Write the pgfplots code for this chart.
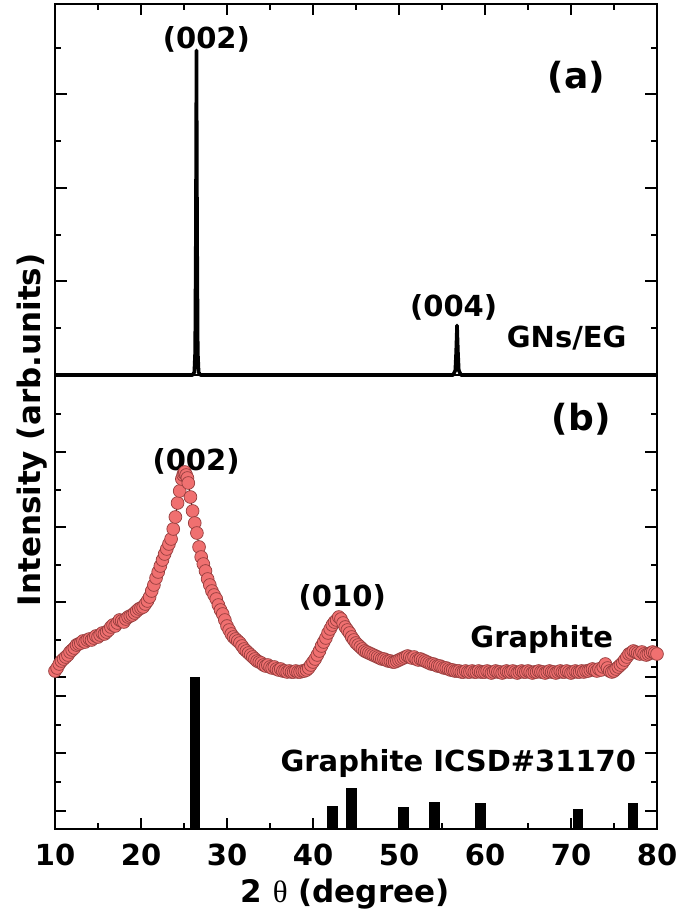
\documentclass[border=0pt]{standalone}
\usepackage{fontspec}
\setmainfont{DejaVu Sans}
\newfontfamily\thfont{Liberation Serif}
\usepackage{pgfplots}
\usepackage{pgfplotstable}
\pgfplotsset{compat=1.18}
\definecolor{salmon}{RGB}{240,112,112}
\definecolor{edgered}{RGB}{150,62,62}

\pgfplotstableread{
x y
10.00 158
10.25 161
10.50 165
10.75 168
11.00 170
11.25 172
11.50 174
11.75 177
12.00 179
12.25 181
12.50 184
12.75 185
13.00 186
13.25 188
13.50 187
13.75 189
14.00 190
14.25 189
14.50 191
14.75 193
15.00 192
15.25 194
15.50 196
15.75 195
16.00 197
16.25 199
16.50 202
16.75 204
17.00 203
17.25 206
17.50 209
17.75 208
18.00 207
18.25 210
18.50 212
18.75 213
19.00 214
19.25 216
19.50 218
19.75 220
20.00 221
20.25 222
20.50 225
20.75 228
21.00 232
21.25 238
21.50 244
21.75 251
22.00 257
22.25 263
22.50 269
22.75 275
23.00 280
23.25 285
23.50 290
23.75 300
24.00 312
24.25 326
24.50 338
24.75 350
24.90 354
25.00 356
25.10 357
25.25 354
25.40 351
25.50 346
25.75 332
26.00 318
26.25 306
26.50 296
26.75 282
27.00 272
27.25 265
27.50 258
27.75 250
28.00 244
28.25 238
28.50 234
28.75 230
29.00 224
29.25 219
29.50 215
29.75 209
30.00 203
30.25 199
30.50 195
30.75 192
31.00 190
31.25 188
31.50 186
31.75 183
32.00 180
32.25 178
32.50 176
32.75 174
33.00 172
33.25 170
33.50 168
33.75 167
34.00 166
34.25 164
34.50 163
34.75 164
35.00 162
35.25 161
35.50 162
35.75 160
36.00 159
36.25 160
36.50 158
36.75 158
37.00 157
37.25 158
37.50 157
37.75 157
38.00 158
38.25 157
38.50 157
38.75 158
39.00 158
39.25 159
39.50 161
39.75 164
40.00 167
40.25 170
40.50 174
40.75 178
41.00 183
41.25 187
41.50 191
41.75 196
42.00 200
42.25 204
42.50 207
42.75 209
43.00 212
43.25 210
43.50 206
43.75 202
44.00 199
44.25 196
44.50 192
44.75 189
45.00 186
45.25 184
45.50 182
45.75 180
46.00 178
46.25 177
46.50 176
46.75 175
47.00 174
47.25 173
47.50 172
47.75 171
48.00 170
48.25 170
48.50 169
48.75 168
49.00 168
49.25 167
49.50 167
49.75 168
50.00 169
50.25 170
50.50 171
50.75 172
51.00 173
51.25 172
51.50 171
51.75 172
52.00 170
52.25 169
52.50 170
52.75 169
53.00 168
53.25 167
53.50 166
53.75 165
54.00 165
54.25 164
54.50 163
54.75 163
55.00 162
55.25 161
55.50 161
55.75 160
56.00 159
56.25 159
56.50 158
56.75 158
57.00 158
57.25 157
57.50 157
57.75 158
58.00 157
58.25 157
58.50 158
58.75 157
59.00 157
59.25 158
59.50 157
59.75 157
60.00 157
60.25 158
60.50 157
60.75 156
61.00 157
61.25 158
61.50 157
61.75 157
62.00 156
62.25 157
62.50 158
62.75 157
63.00 157
63.25 158
63.50 157
63.75 156
64.00 157
64.25 158
64.50 157
64.75 157
65.00 158
65.25 157
65.50 156
65.75 157
66.00 157
66.25 158
66.50 157
66.75 157
67.00 156
67.25 157
67.50 158
67.75 157
68.00 157
68.25 156
68.50 157
68.75 158
69.00 157
69.25 157
69.50 158
69.75 157
70.00 156
70.25 157
70.50 158
70.75 157
71.00 157
71.25 158
71.50 157
71.75 158
72.00 158
72.25 159
72.50 160
72.75 159
73.00 158
73.25 160
73.50 159
73.75 162
74.00 165
74.25 161
74.50 158
74.75 157
75.00 158
75.25 160
75.50 162
75.75 164
76.00 166
76.25 169
76.50 172
76.75 175
77.00 176
77.25 178
77.50 177
77.75 176
78.00 175
78.25 177
78.50 175
78.75 174
79.00 175
79.25 176
79.50 177
79.75 176
80.00 175
}\graphite

\begin{document}
\begin{tikzpicture}
\useasboundingbox (-27.5pt,-43.5pt) rectangle (315pt,414.5pt);
\pgfplotsset{
  every axis/.append style={
    scale only axis, width=301pt, xmin=10, xmax=80,
    tick align=inside, major tick length=5.75pt, minor tick length=3pt,
    axis line style={line width=1.3pt},
    every tick/.style={black, line width=1pt},
    /pgf/number format/assume math mode=true,
    tick label style={font=\fontsize{14.5}{16}\selectfont\bfseries},
    yticklabels={},
  },
}
% panel (b)
\begin{axis}[
  at={(0pt,0pt)}, anchor=south west, height=227pt,
  ymin=0, ymax=454,
  xtick={10,20,...,80}, minor xtick={15,25,...,75}, xtick pos=left,
  ytick={18,76,133,152,227,302,377}, minor ytick={47,104,162,189,264,339,415},
  ytick pos=both,
  xticklabel style={anchor=base, yshift=-18pt},
  xlabel={2 {\thfont\mdseries θ} (degree)},
  xlabel style={at={(axis description cs:0.4817,-0.1608)}, anchor=base, font=\fontsize{15.5}{17}\selectfont\bfseries},
  ylabel={Intensity (arb.units)},
  ylabel style={at={(axis description cs:-0.0249,0.879)}, anchor=base, font=\fontsize{15.5}{17}\selectfont\bfseries},
]
\addplot[ycomb, black, line width=5.25pt] coordinates {
  (26.3,152) (42.25,23) (44.45,41) (50.5,22) (54.1,27) (59.5,26) (70.8,20) (77.2,26)
};
\addplot[black, line width=0.5pt, mark=*, mark size=3.2pt,
  mark options={fill=salmon, draw=edgered, line width=0.35pt}] table[x=x,y=y]{\graphite};
\node[font=\fontsize{18}{20}\selectfont\bfseries] at (axis cs:71.2,410) {(b)};
\node[font=\fontsize{14.5}{16}\selectfont\bfseries] at (axis cs:26.4,368) {(002)};
\node[font=\fontsize{14.5}{16}\selectfont\bfseries] at (axis cs:43.4,232) {(010)};
\node[font=\fontsize{14.5}{16}\selectfont\bfseries, anchor=base] at (axis cs:66.6,181) {Graphite};
\node[font=\fontsize{14.5}{16}\selectfont\bfseries, anchor=base] at (axis cs:56.9,58) {Graphite ICSD\#31170};
\end{axis}
% panel (a)
\begin{axis}[
  at={(0pt,227pt)}, anchor=south west, height=185.5pt,
  ymin=0, ymax=3.966, clip=false,
  xtick={10,20,...,80}, minor xtick={15,25,...,75}, xtick pos=right, xticklabels={},
  ytick={0,1,2,3}, minor ytick={0.5,1.5,2.5,3.5}, ytick pos=both,
]
\addplot[black, line width=1.8pt, line join=round] coordinates {
  (10,0) (26.0,0) (26.2,0.03) (26.3,0.25) (26.38,1.5) (26.45,3.47) (26.52,1.5) (26.6,0.25) (26.7,0.03) (26.9,0)
  (56.3,0) (56.55,0.05) (56.65,0.25) (56.75,0.53) (56.85,0.25) (56.95,0.05) (57.2,0) (80,0)
};
\node[font=\fontsize{14.5}{16}\selectfont\bfseries] at (axis cs:27.6,3.59) {(002)};
\node[font=\fontsize{14.5}{16}\selectfont\bfseries] at (axis cs:56.35,0.72) {(004)};
\node[font=\fontsize{14.5}{16}\selectfont\bfseries, anchor=base] at (axis cs:69.5,0.29) {GNs/EG};
\node[font=\fontsize{18}{20}\selectfont\bfseries] at (axis cs:70.6,3.18) {(a)};
\end{axis}
\end{tikzpicture}
\end{document}
